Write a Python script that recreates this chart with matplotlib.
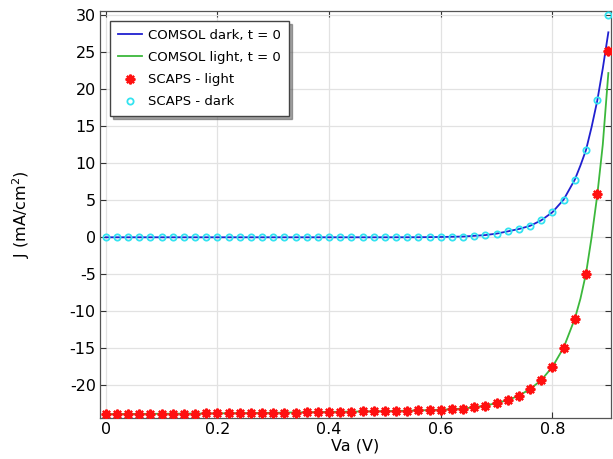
import matplotlib

matplotlib.use("Agg")
import matplotlib.pyplot as plt

# SCAPS reference points (V, mA/cm^2)
va = [0.00, 0.02, 0.04, 0.06, 0.08, 0.10, 0.12, 0.14, 0.16, 0.18,
      0.20, 0.22, 0.24, 0.26, 0.28, 0.30, 0.32, 0.34, 0.36, 0.38,
      0.40, 0.42, 0.44, 0.46, 0.48, 0.50, 0.52, 0.54, 0.56, 0.58,
      0.60, 0.62, 0.64, 0.66, 0.68, 0.70, 0.72, 0.74, 0.76, 0.78,
      0.80, 0.82, 0.84, 0.86, 0.88, 0.90]
scaps_dark = [0.00, 0.00, 0.00, 0.00, 0.00, 0.00, 0.00, 0.00, 0.00, 0.00,
              0.00, 0.00, 0.00, 0.00, 0.00, 0.00, 0.00, 0.00, 0.00, 0.00,
              0.00, 0.00, 0.00, 0.00, 0.00, 0.00, 0.01, 0.01, 0.01, 0.02,
              0.04, 0.06, 0.10, 0.18, 0.30, 0.50, 0.80, 1.12, 1.55, 2.30,
              3.40, 5.10, 7.80, 11.8, 18.6, 30.0]
scaps_light = [-23.90, -23.89, -23.88, -23.87, -23.86, -23.85, -23.84, -23.83, -23.82, -23.81,
               -23.80, -23.79, -23.77, -23.76, -23.74, -23.72, -23.70, -23.68, -23.66, -23.63,
               -23.60, -23.58, -23.56, -23.54, -23.52, -23.50, -23.47, -23.44, -23.40, -23.36,
               -23.30, -23.25, -23.15, -23.00, -22.75, -22.40, -22.00, -21.40, -20.50, -19.30,
               -17.50, -14.90, -11.00, -4.90, 5.80, 25.2]

# COMSOL curves (t = 0)
comsol_va = [0.00, 0.10, 0.20, 0.30, 0.40, 0.50, 0.56, 0.60, 0.64, 0.68,
             0.70, 0.72, 0.74, 0.76, 0.78, 0.80, 0.82, 0.84, 0.85, 0.86,
             0.87, 0.88, 0.89, 0.90]
comsol_dark = [0.00, 0.00, 0.00, 0.00, 0.00, 0.00, 0.01, 0.04, 0.10, 0.30,
               0.50, 0.80, 1.12, 1.55, 2.30, 3.40, 5.10, 7.80, 9.70, 11.8,
               14.9, 18.4, 22.8, 27.7]
comsol_light = [-23.90, -23.85, -23.80, -23.72, -23.60, -23.50, -23.40, -23.30, -23.15, -22.75,
                -22.40, -22.00, -21.40, -20.50, -19.30, -17.50, -14.90, -11.00, -8.30, -4.90,
                0.00, 5.60, 12.5, 22.2]

plt.rcParams.update({
    "font.family": "DejaVu Sans",
    "font.size": 11,
    "axes.unicode_minus": False,
})

fig = plt.figure(figsize=(6.13, 4.59), dpi=100)
ax = fig.add_axes([0.1631, 0.090, 0.8336, 0.886])

ax.plot(comsol_va, comsol_dark, color="#2020d0", lw=1.3, label="COMSOL dark, t = 0", zorder=3)
ax.plot(comsol_va, comsol_light, color="#3cb83c", lw=1.3, label="COMSOL light, t = 0", zorder=3)
ax.plot(va, scaps_light, ls="none", marker=(8, 2, 0), ms=7, mew=1.6,
        color="#ff1010", label="SCAPS - light", zorder=4)
ax.plot(va, scaps_dark, ls="none", marker="o", ms=4.5, mfc="none", mew=1.3,
        color="#33e3f0", label="SCAPS - dark", zorder=4)

ax.set_xlim(-0.0102, 0.9047)
ax.set_ylim(-24.38, 30.58)
ax.set_xticks([0, 0.2, 0.4, 0.6, 0.8])
ax.set_xticklabels(["0", "0.2", "0.4", "0.6", "0.8"])
ax.set_yticks(range(-20, 31, 5))
ax.tick_params(direction="in", top=True, right=True, length=4, width=0.8,
               color="#333333", labelsize=11.5, pad=3)
ax.grid(True, color="#e2e2e2", lw=0.9)
ax.set_axisbelow(True)
for s in ax.spines.values():
    s.set_color("#555555")
    s.set_linewidth(0.9)

ax.set_xlabel("Va (V)", fontsize=11.5, labelpad=1)
ax.set_ylabel("J (mA/cm$^2$)", fontsize=11.5, labelpad=27)

leg = ax.legend(loc="upper left", bbox_to_anchor=(0.02, 0.976), borderaxespad=0,
                fontsize=9.5, frameon=True, fancybox=False, shadow=True,
                handlelength=1.8, handletextpad=0.5, labelspacing=0.7,
                borderpad=0.6)
leg.get_frame().set_edgecolor("#444444")
leg.get_frame().set_linewidth(1.0)

fig.savefig("out.png", dpi=100)
